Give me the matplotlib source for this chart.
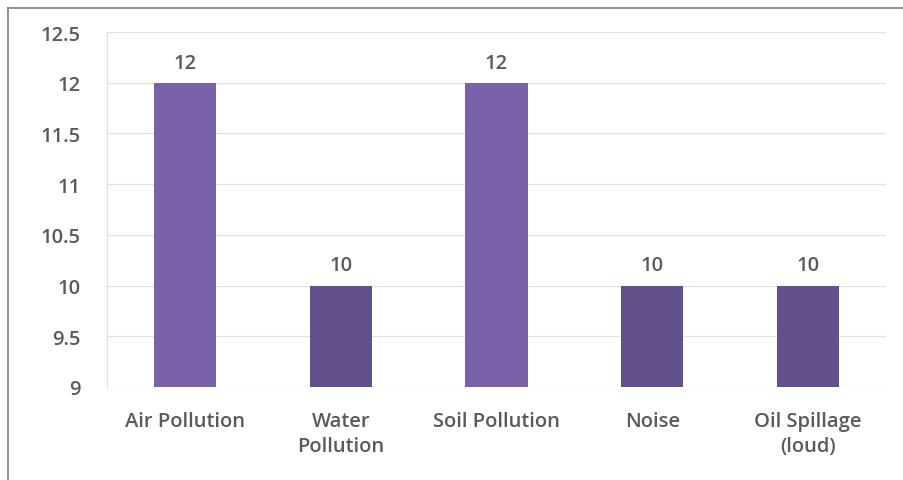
import matplotlib
matplotlib.use("Agg")
import matplotlib.pyplot as plt
from matplotlib.lines import Line2D

categories = ["Air Pollution", "Water\nPollution", "Soil Pollution", "Noise", "Oil Spillage\n(loud)"]
values = [12, 10, 12, 10, 10]
bar_colors = ["#7a62ab", "#62508d", "#7a62ab", "#62508d", "#62508d"]
y_ticks = [9, 9.5, 10, 10.5, 11, 11.5, 12, 12.5]
y_tick_labels = ["9", "9.5", "10", "10.5", "11", "11.5", "12", "12.5"]

plt.rcParams["font.family"] = ["Open Sans", "DejaVu Sans"]
TEXT = "#5a5a5a"
FS = 14.5

fig = plt.figure(figsize=(9.04, 4.81), dpi=100)
fig.patch.set_facecolor("white")

# chart frame: top and left edges
fig.lines.append(Line2D([8 / 904, 1.0], [1 - 9 / 481, 1 - 9 / 481],
                        transform=fig.transFigure, color="#8a8a8a", linewidth=1.3))
fig.lines.append(Line2D([8 / 904, 8 / 904], [0.0, 1 - 9 / 481],
                        transform=fig.transFigure, color="#8a8a8a", linewidth=1.3))

ax = fig.add_axes([107 / 904, 1 - 388 / 481, 779 / 904, 355 / 481])
x = range(len(categories))
ax.bar(x, values, width=0.40, color=bar_colors, zorder=3)
ax.set_ylim(9, 12.5)
ax.set_xlim(-0.5, len(categories) - 0.5)

ax.set_yticks(y_ticks)
ax.set_yticklabels(y_tick_labels)
ax.set_xticks(list(x))
ax.set_xticklabels(categories, linespacing=1.35)

ax.yaxis.grid(True, color="#e2e2e2", linewidth=0.9, zorder=0)
ax.set_axisbelow(True)
for side in ["top", "right", "bottom"]:
    ax.spines[side].set_visible(False)
ax.spines["left"].set_color("#dedede")
ax.tick_params(axis="y", length=0, pad=19, labelsize=FS, labelcolor=TEXT)
ax.tick_params(axis="x", length=0, pad=17, labelsize=FS, labelcolor=TEXT)
for lbl in ax.get_xticklabels() + ax.get_yticklabels():
    lbl.set_fontweight("semibold")

for xi, v in zip(x, values):
    ax.text(xi, v + 0.1, f"{v}", ha="center", va="bottom",
            fontsize=FS, fontweight="semibold", color=TEXT, zorder=4)

fig.savefig("out.png", dpi=100, facecolor="white")
